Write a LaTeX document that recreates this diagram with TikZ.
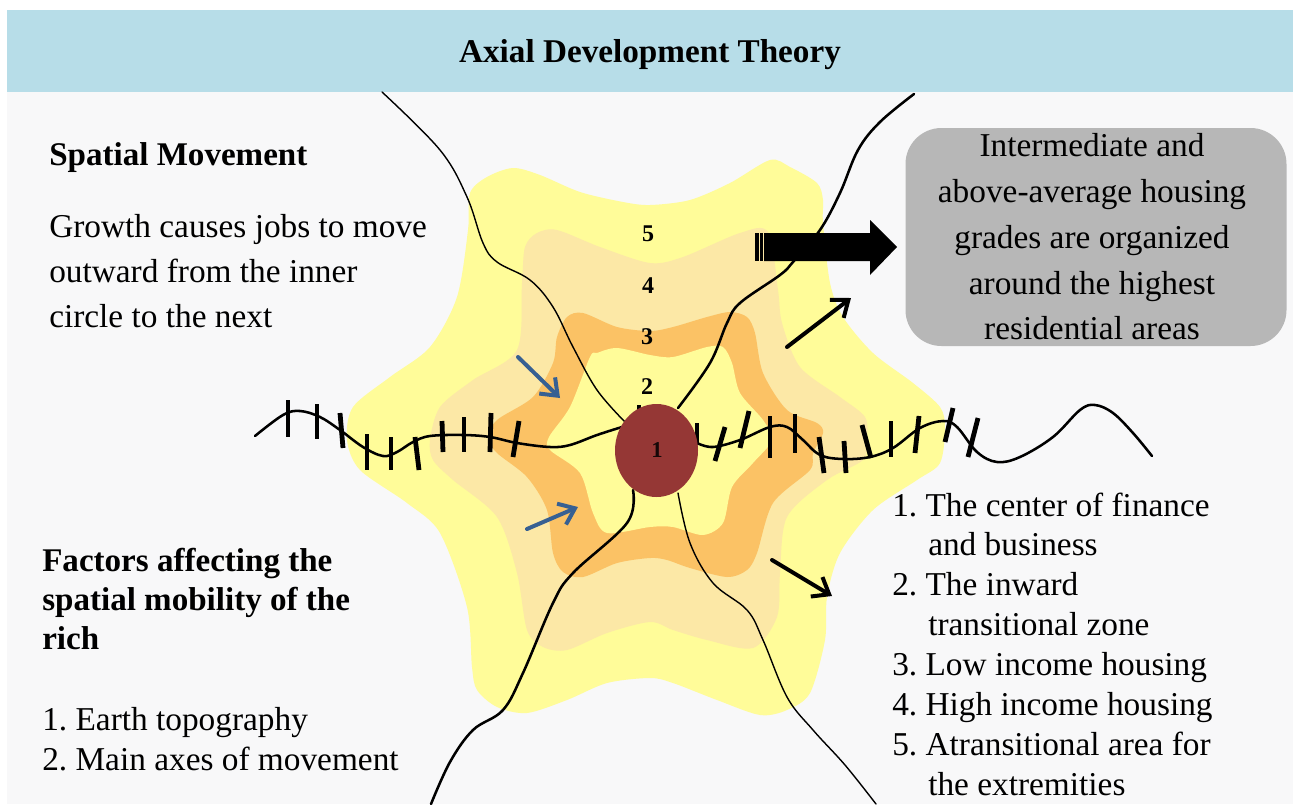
\documentclass[tikz,border=0pt]{standalone}
\usepackage{fontspec}
\setmainfont{Liberation Serif}
\usetikzlibrary{arrows.meta}
\frenchspacing
\definecolor{bgc}{HTML}{F8F8F9}
\definecolor{band}{HTML}{B7DDE8}
\definecolor{z5}{HTML}{FFFC99}
\definecolor{z4}{HTML}{FCE8A6}
\definecolor{z3}{HTML}{FBC265}
\definecolor{core}{HTML}{953735}
\definecolor{bluearrow}{HTML}{376092}
\definecolor{greybox}{HTML}{B7B7B7}
\tikzset{
 x=0.75pt,y=-0.75pt,
 zone/.style={line join=round},
 axisline/.style={line width=1.9pt,black,line cap=round},
 thinaxis/.style={line width=1.05pt,black,line cap=round},
 tick/.style={line width=3.6pt,black},
 bluearr/.style={line width=3pt,bluearrow,line cap=round,-{Straight Barb[length=11pt,width=17pt,line width=3pt]}},
 blackarr/.style={line width=3pt,black,line cap=round,-{Straight Barb[length=11pt,width=17pt,line width=3pt]}},
 txt/.style={font=\fontsize{25}{30}\selectfont,anchor=west,inner sep=0pt,align=left},
 num/.style={font=\fontsize{18}{20}\selectfont\bfseries,inner sep=0pt},
}
\begin{document}
\begin{tikzpicture}
\useasboundingbox (0,0) rectangle (1293,804);
\fill[white] (0,0) rectangle (1293,804);
\fill[bgc] (7,92) rectangle (1293,804);
\fill[band] (7,10) rectangle (1293,92);
\node[font=\fontsize{24.9}{28}\selectfont\bfseries,inner sep=0pt] (title) at (650,55) {Axial Development Theory};
% outer zone
\fill[z5,zone] plot[smooth cycle,tension=0.5] coordinates {
 (470,193)(487,177)(513,168)(540,175)(580,192)(623,202)(650,205)(690,200)(730,183)(770,160)(790,167)(817,183)(823,200)(823,223)(830,283)(843,317)(873,353)(913,383)(940,407)(945,428)(940,463)(917,480)(873,510)(840,553)(827,597)(825,640)(810,693)(787,710)(760,715)(717,700)(673,683)(650,678)(607,683)(567,700)(527,713)(497,707)(477,690)(472,667)(467,607)(440,533)(407,503)(360,470)(347,440)(353,407)(390,377)(430,347)(457,297)(468,230)};
% zone 4
\fill[z4,zone] plot[smooth cycle,tension=0.5] coordinates {
 (525,247)(537,233)(557,230)(600,247)(650,263)(683,257)(740,233)(768,232)(778,290)(782,323)(800,367)(840,397)(865,417)(867,440)(863,460)(827,480)(787,517)(780,573)(777,617)(753,648)(707,640)(673,630)(650,622)(607,633)(567,650)(543,647)(527,630)(517,573)(497,517)(453,480)(433,460)(430,440)(440,407)(473,380)(517,350)(522,283)};
% zone 3
\fill[z3,zone] plot[smooth cycle,tension=0.5] coordinates {
 (557,337)(567,317)(583,313)(617,327)(650,331)(673,327)(707,317)(730,312)(747,317)(755,333)(763,373)(787,410)(817,423)(823,433)(813,453)(810,470)(773,503)(757,553)(747,570)(727,577)(690,568)(667,560)(650,558)(617,563)(583,577)(563,572)(553,553)(547,510)(527,477)(497,453)(488,438)(497,420)(533,397)(553,363)};
% zone 2
\fill[z5,zone] plot[smooth cycle,tension=0.5] coordinates {
 (590,357)(597,353)(617,348)(650,355)(673,357)(707,347)(723,347)(732,363)(740,393)(763,420)(772,440)(753,463)(732,487)(723,523)(703,535)(673,527)(650,527)(607,533)(593,513)(580,473)(550,450)(549,437)(570,407)};
% axes
\draw[thinaxis] plot[smooth,tension=0.6] coordinates {(382,92)(440,150)(467,197)(483,243)(497,262)(530,280)(553,307)(573,347)(597,390)(625,422)};
\draw[axisline] plot[smooth,tension=0.6] coordinates {(914,94)(880,122)(858,150)(840,193)(820,230)(793,262)(780,275)(740,303)(727,323)(710,363)(678,408)};
\draw[axisline] plot[smooth,tension=0.6] coordinates {(633,490)(627,523)(573,573)(553,603)(523,673)(503,710)(473,730)(450,762)(431,804)};
\draw[thinaxis] plot[smooth,tension=0.6] coordinates {(678,493)(690,543)(713,583)(747,610)(763,640)(787,697)(813,730)(845,765)(876,804)};
\draw[axisline] plot[smooth,tension=0.6] coordinates {(255,436)(283,415)(300,411)(320,417)(340,430)(363,447)(383,456)(397,452)(413,442)(430,436)(463,435)(490,437)(517,443)(550,447)(570,445)(597,435)(622,427)};
\draw[axisline] plot[smooth,tension=0.6] coordinates {(697,443)(713,447)(740,440)(770,427)(787,427)(803,440)(820,455)(843,459)(870,457)(893,448)(920,428)(943,421)(957,427)(977,452)(997,462)(1020,457)(1053,437)(1080,410)(1095,405)(1113,413)(1133,433)(1152,456)};
% ticks
\foreach \a/\b/\c/\d in {288/400/288/437, 317/404/317/439, 340/413/343/448, 367/434/367/470, 391/437/391/470, 415/437/419/470, 442/421/443/452, 464/417/464/452, 491/413/490/452, 519/421/513/457, 639/405/639/412}
 \draw[tick] (\a,\b) -- (\c,\d);
\foreach \a/\b/\c/\d in {697/423/697/445, 725/427/715/461, 749/411/740/448, 770/416/770/458, 795/414/795/453, 819/437/824/473, 844/441/846/473, 862/425/871/458, 891/421/891/457, 919/416/915/453, 953/408/945/442, 978/418/968/457}
 \draw[tick] (\a,\b) -- (\c,\d);
% core
\fill[core] (656.5,450.5) ellipse (41.5 and 46.5);
\node[num,font=\fontsize{17}{20}\selectfont\bfseries,text=black!85!core] (n1) at (657,450) {1};
\node[num] (n2) at (647,387) {2};
\node[num] (n3) at (647,337) {3};
\node[num] (n4) at (648,286) {4};
\node[num] (n5) at (648,234) {5};
% big arrow
\fill[black] (764,233) -- (870,233) -- (870,220) -- (897,247) -- (870,275) -- (870,261) -- (764,261) -- cycle;
\fill[black] (755,233) rectangle (758.5,261);
\fill[black] (760,233) rectangle (762.5,261);
% small arrows
\coordinate (a1s) at (787,347); \coordinate (a1e) at (851,298);
\draw[blackarr] (a1s) -- (a1e);
\coordinate (a2s) at (772,560); \coordinate (a2e) at (832,596);
\draw[blackarr] (a2s) -- (a2e);
\coordinate (a3s) at (518,357); \coordinate (a3e) at (560,398);
\draw[bluearr] (a3s) -- (a3e);
\coordinate (a4s) at (527,529); \coordinate (a4e) at (578,507);
\draw[bluearr] (a4s) -- (a4e);
% grey box
\node[fill=greybox,rounded corners=27pt,minimum width=381*0.75pt,minimum height=218*0.75pt,inner sep=0pt] (box) at (1096,237) {};
\node[inner sep=0pt,font=\fontsize{25}{34.3}\selectfont,align=center] (boxtext) at (1092,237) {Intermediate and\\above-average housing\\grades are organized\\around the highest\\residential areas};
% left text
\node[txt,font=\fontsize{24.8}{30}\selectfont\bfseries] (sm) at (49,158) {Spatial Movement};
\node[txt,font=\fontsize{25}{33.8}\selectfont] (grow) at (49,271) {Growth causes jobs to move\\outward from the inner\\circle to the next};
\node[txt,font=\fontsize{24.8}{29.6}\selectfont\bfseries] (fac) at (42,599) {Factors affecting the\\spatial mobility of the\\rich};
\node[txt] (t1) at (42,739) {1. Earth topography\\2. Main axes of movement};
% right list
\node[txt,font=\fontsize{25}{29.9}\selectfont] (l) at (892,644) {1. The center of finance\\\hspace*{27pt}and business\\2. The inward\\\hspace*{27pt}transitional zone\\3. Low income housing\\4. High income housing\\5. Atransitional area for\\\hspace*{27pt}the extremities};
\end{tikzpicture}
\end{document}
